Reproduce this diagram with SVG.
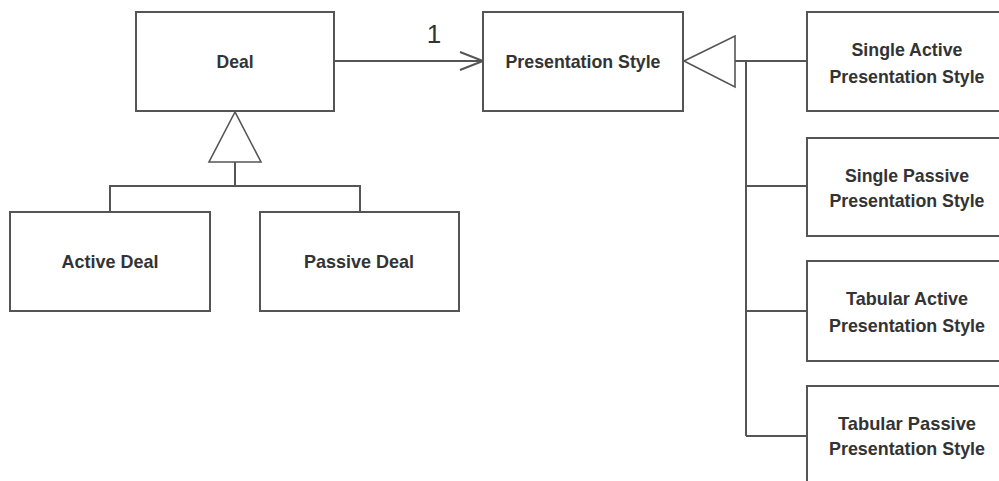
<svg xmlns="http://www.w3.org/2000/svg" width="999" height="481" viewBox="0 0 999 481">
<style>
.box{fill:#fff;stroke:#555;stroke-width:2}
.ln{fill:none;stroke:#555;stroke-width:2}
.tri{fill:#fff;stroke:#555;stroke-width:1.6}
.t{font-family:"Liberation Sans",Arial,sans-serif;font-weight:bold;font-size:19px;fill:#333;text-anchor:middle}
.m{font-family:"Liberation Sans",Arial,sans-serif;font-size:26px;fill:#333;text-anchor:middle}
</style>
<rect width="999" height="481" fill="#fff"/>
<g id="connectors">
<path class="ln" d="M334 61 H482"/>
<path class="ln" d="M460 52 L483 61 L460 70"/>
<text class="m" x="434" y="43">1</text>
<path class="ln" d="M235 162 V186 M110 212 V186 H360 V212"/>
<polygon class="tri" points="235,112 209,162 261,162"/>
<path class="ln" d="M735 61 H807 M746 61 V436 M746 186 H807 M746 311 H807 M746 436 H807"/>
<polygon class="tri" points="684,61 735,36 735,87"/>
</g>
<g id="deal">
<rect class="box" x="136" y="12" width="198" height="99"/>
<text class="t" x="235" y="68" textLength="37" lengthAdjust="spacingAndGlyphs">Deal</text>
</g>
<g id="active-deal">
<rect class="box" x="10" y="212" width="200" height="99"/>
<text class="t" x="110" y="268" textLength="97" lengthAdjust="spacingAndGlyphs">Active Deal</text>
</g>
<g id="passive-deal">
<rect class="box" x="260" y="212" width="199" height="99"/>
<text class="t" x="359" y="268" textLength="110" lengthAdjust="spacingAndGlyphs">Passive Deal</text>
</g>
<g id="presentation-style">
<rect class="box" x="483" y="12" width="200" height="99"/>
<text class="t" x="583" y="68" textLength="155" lengthAdjust="spacingAndGlyphs">Presentation Style</text>
</g>
<g id="single-active">
<rect class="box" x="807" y="12" width="200" height="99"/>
<text class="t" x="907" y="56" textLength="111" lengthAdjust="spacingAndGlyphs">Single Active</text>
<text class="t" x="907" y="83" textLength="155" lengthAdjust="spacingAndGlyphs">Presentation Style</text>
</g>
<g id="single-passive">
<rect class="box" x="807" y="138" width="200" height="98"/>
<text class="t" x="907" y="182" textLength="124" lengthAdjust="spacingAndGlyphs">Single Passive</text>
<text class="t" x="907" y="207" textLength="155" lengthAdjust="spacingAndGlyphs">Presentation Style</text>
</g>
<g id="tabular-active">
<rect class="box" x="807" y="261" width="200" height="100"/>
<text class="t" x="907" y="305" textLength="122" lengthAdjust="spacingAndGlyphs">Tabular Active</text>
<text class="t" x="907" y="332" textLength="156" lengthAdjust="spacingAndGlyphs">Presentation Style</text>
</g>
<g id="tabular-passive">
<rect class="box" x="807" y="386" width="200" height="100"/>
<text class="t" x="907" y="430" textLength="138" lengthAdjust="spacingAndGlyphs">Tabular Passive</text>
<text class="t" x="907" y="455" textLength="156" lengthAdjust="spacingAndGlyphs">Presentation Style</text>
</g>
</svg>
